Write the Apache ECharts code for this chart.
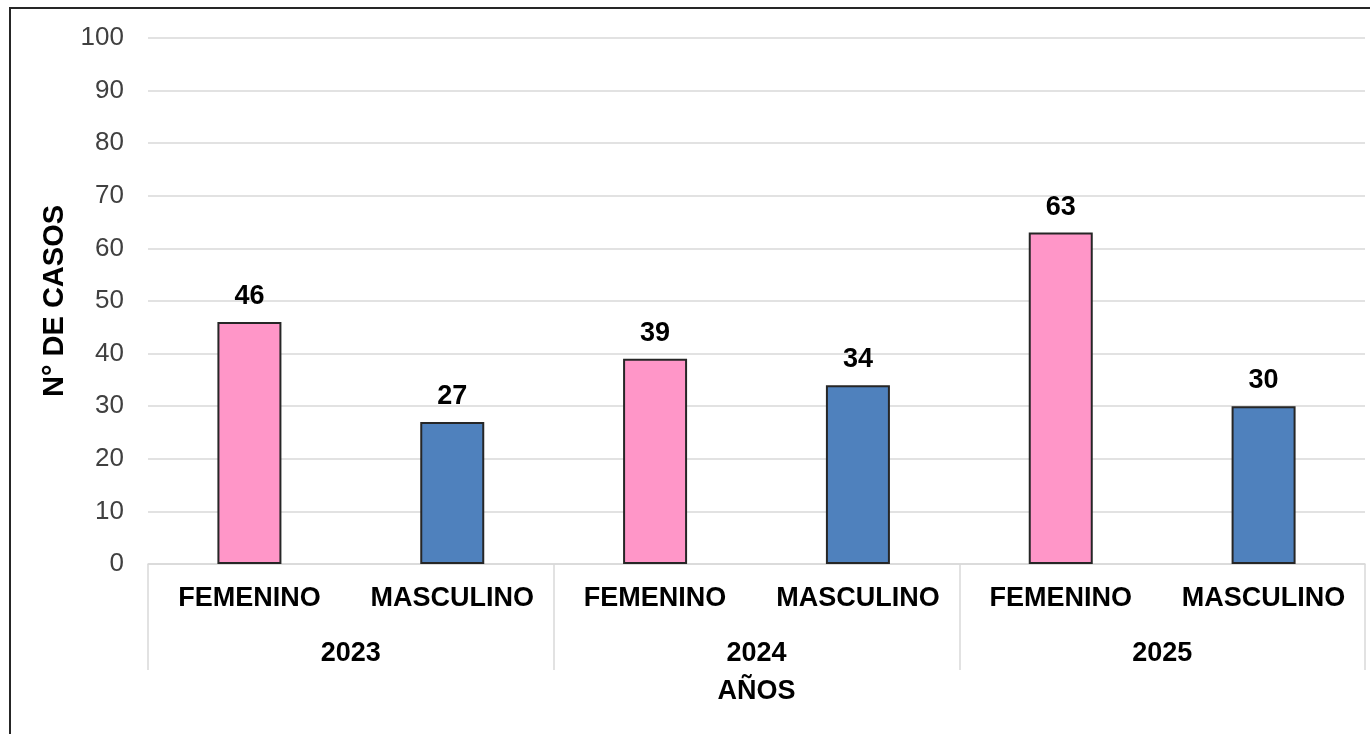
<!DOCTYPE html>
<html>
<head>
<meta charset="utf-8">
<style>
  html, body { margin: 0; padding: 0; background: #fff; }
  #chart { width: 1370px; height: 734px; }
</style>
<script src="https://cdn.jsdelivr.net/npm/echarts@6/dist/echarts.min.js"></script>
</head>
<body>
<div id="chart"></div>
<script>
// datos
const sexos = ['FEMENINO', 'MASCULINO', 'FEMENINO', 'MASCULINO', 'FEMENINO', 'MASCULINO'];
const anios = ['2023', '2024', '2025'];
const casos = [46, 27, 39, 34, 63, 30];
const yTicks = [0, 10, 20, 30, 40, 50, 60, 70, 80, 90, 100];

const colorFem = '#ff96c8';
const colorMas = '#4f81bd';

const font = 'Liberation Sans, Arial, sans-serif';

let chart = echarts.init(document.getElementById('chart'));

const option = {
    animation: false,
    backgroundColor: '#fff',
    graphic: [
        {
            type: 'rect',
            shape: { x: 10, y: 8, width: 1400, height: 800 },
            style: { fill: 'none', stroke: '#262626', lineWidth: 2 },
            silent: true
        }
    ],
    grid: { left: 148, right: 5, top: 38, bottom: 170 },
    xAxis: [
        {
            type: 'category',
            data: sexos,
            axisLine: { show: true, lineStyle: { color: '#d9d9d9', width: 1.5 } },
            axisTick: { show: false },
            axisLabel: {
                interval: 0,
                margin: 21,
                color: '#000',
                fontFamily: font,
                fontWeight: 'bold',
                fontSize: 27
            }
        },
        {
            type: 'category',
            data: anios,
            position: 'bottom',
            axisLine: { show: false },
            axisTick: { show: true, interval: 0, length: 106, lineStyle: { color: '#d9d9d9', width: 1.5 } },
            axisLabel: {
                interval: 0,
                margin: 76,
                color: '#000',
                fontFamily: font,
                fontWeight: 'bold',
                fontSize: 27
            },
            name: 'AÑOS',
            nameLocation: 'middle',
            nameGap: 114,
            nameTextStyle: { color: '#000', fontFamily: font, fontWeight: 'bold', fontSize: 27 }
        }
    ],
    yAxis: {
        type: 'value',
        min: yTicks[0],
        max: yTicks[yTicks.length - 1],
        interval: 10,
        name: 'N° DE CASOS',
        nameLocation: 'middle',
        nameRotate: 90,
        nameGap: 78,
        nameTextStyle: { color: '#000', fontFamily: font, fontWeight: 'bold', fontSize: 29 },
        axisLine: { show: false },
        axisTick: { show: false },
        axisLabel: { margin: 24, color: '#404040', fontFamily: font, fontSize: 26 },
        splitLine: { lineStyle: { color: '#d9d9d9', width: 1.5 } }
    },
    series: [
        {
            type: 'bar',
            xAxisIndex: 0,
            barWidth: 64,
            data: casos.map(function (v, i) {
                return {
                    value: v,
                    itemStyle: { color: i % 2 === 0 ? colorFem : colorMas }
                };
            }),
            itemStyle: { borderColor: '#262626', borderWidth: 2 },
            label: {
                show: true,
                position: 'top',
                distance: 12,
                color: '#000',
                fontFamily: font,
                fontWeight: 'bold',
                fontSize: 27
            }
        }
    ]
};

chart.setOption(option);
window.addEventListener('resize', function () {
    chart.resize();
});
</script>
</body>
</html>
